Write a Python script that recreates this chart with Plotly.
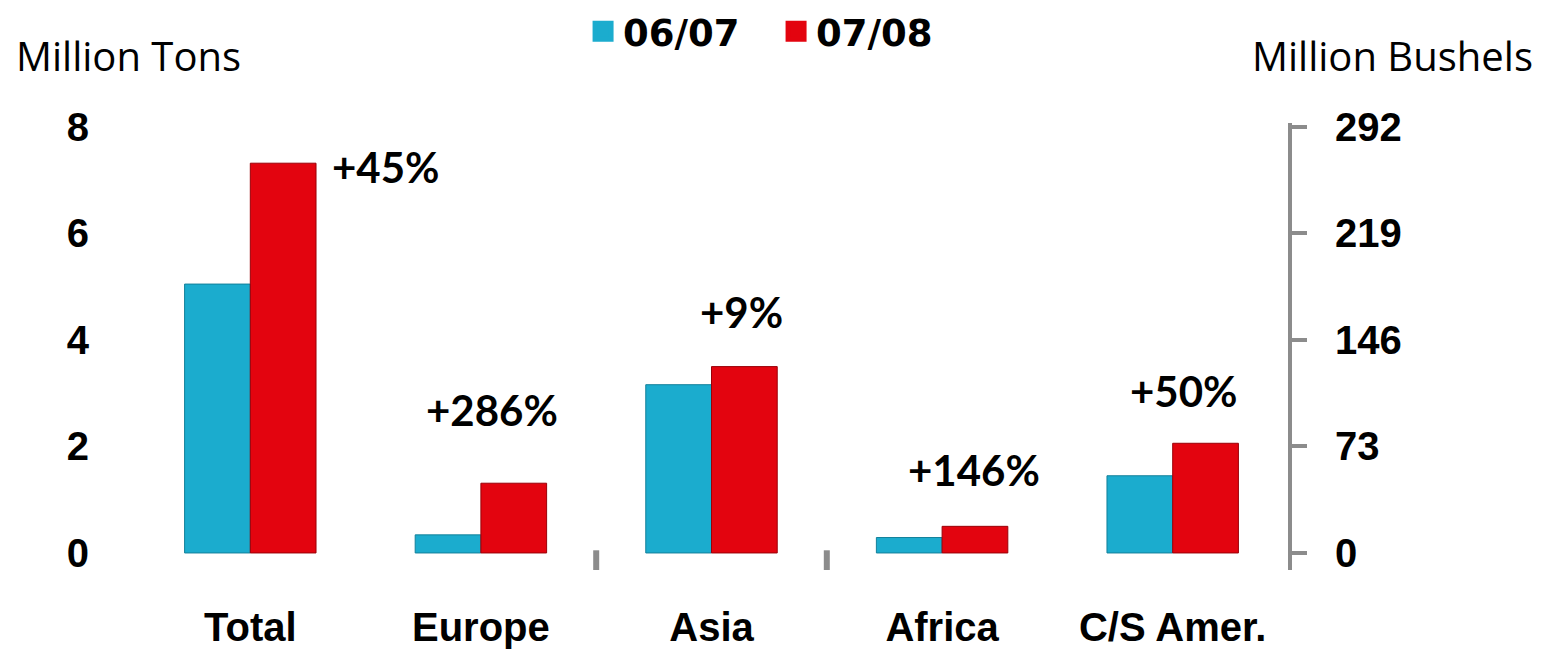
import plotly.graph_objects as go

categories = ["Total", "Europe", "Asia", "Africa", "C/S Amer."]
s0607 = [5.05, 0.34, 3.16, 0.29, 1.45]
s0708 = [7.32, 1.31, 3.50, 0.50, 2.06]
changes = ["+45%", "+286%", "+9%", "+146%", "+50%"]
label_x = [0.59, 1.05, 2.13, 3.14, 4.05]
label_y = [7.25, 2.69, 4.53, 1.56, 3.04]
left_ticks = [0, 2, 4, 6, 8]
right_ticks = [0, 73, 146, 219, 292]

CYAN = "#1bacce"
RED = "#e3040f"
TICKFONT = dict(family="Liberation Sans", size=40, color="black", weight="bold")
XFONT = dict(family="Liberation Sans", size=40, color="black", weight="bold")

fig = go.Figure()
fig.add_trace(go.Bar(x=categories, y=s0607, name="06/07", marker=dict(color=CYAN, line=dict(color="#13809a", width=1)), showlegend=False))
fig.add_trace(go.Bar(x=categories, y=s0708, name="07/08", marker=dict(color=RED, line=dict(color="#9a0008", width=1)), showlegend=False))
# legend entries
fig.add_trace(go.Scatter(x=[None], y=[None], mode="markers", name="06/07",
                         marker=dict(symbol="square", size=30, color=CYAN, line=dict(color=CYAN, width=5))))
fig.add_trace(go.Scatter(x=[None], y=[None], mode="markers", name="07/08",
                         marker=dict(symbol="square", size=30, color=RED, line=dict(color=RED, width=5))))
# secondary axis carrier
fig.add_trace(go.Scatter(x=[None], y=[None], yaxis="y2", showlegend=False))

for xv, yv, t in zip(label_x, label_y, changes):
    fig.add_annotation(x=xv, y=yv, xref="x", yref="y", text="<b>%s</b>" % t, showarrow=False,
                       font=dict(family="Lato", size=42, color="black"))

for b in [1.5, 2.5]:
    fig.add_shape(type="line", x0=b, x1=b, y0=0.05, y1=-0.32, xref="x", yref="y",
                  line=dict(color="#8c8c8c", width=6))

fig.add_annotation(x=-0.105, y=1.152, xref="paper", yref="paper", xanchor="left", yanchor="middle",
                   text="Million Tons", showarrow=False, font=dict(family="Open Sans", size=40, color="black"))
fig.add_annotation(x=1.214, y=1.152, xref="paper", yref="paper", xanchor="right", yanchor="middle",
                   text="Million Bushels", showarrow=False, font=dict(family="Open Sans", size=40, color="black"))

fig.update_layout(
    width=1556, height=652,
    margin=dict(l=127, r=276, t=115, b=90, autoexpand=False),
    paper_bgcolor="white", plot_bgcolor="white",
    barmode="group", bargap=0.43, bargroupgap=0,
    legend=dict(orientation="h", x=0.556, xanchor="center", y=1.204, yanchor="middle",
                font=dict(family="DejaVu Sans", size=37, color="black", weight="bold"), itemsizing="trace",
                itemwidth=30, traceorder="normal", entrywidth=148, entrywidthmode="pixels"),
    xaxis=dict(showline=False, ticks="", showgrid=False, tickfont=XFONT, ticklabelstandoff=30,
               range=[-0.5, 4.5], automargin=False),
    yaxis=dict(range=[-0.32, 8.075], tickvals=left_ticks, showgrid=False, zeroline=False, showline=False,
               ticks="", tickfont=TICKFONT, ticklabelstandoff=45, automargin=False),
    yaxis2=dict(range=[-11.68, 294.7], tickvals=right_ticks, overlaying="y", side="right",
                showgrid=False, zeroline=False, showline=True, linecolor="#8c8c8c", linewidth=4,
                ticks="outside", ticklen=15, tickwidth=4, tickcolor="#8c8c8c",
                tickfont=TICKFONT, ticklabelstandoff=20, automargin=False),
)
fig.write_html("out.html")
